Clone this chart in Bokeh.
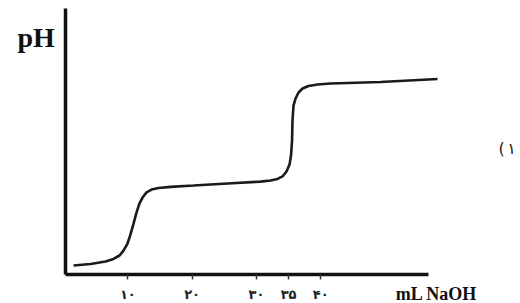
from bokeh.plotting import figure
from bokeh.models import Range1d, Label, FixedTicker
from bokeh.embed import file_html
from bokeh.resources import INLINE

# volume of NaOH added (mL) and pH
ml = [1.56, 4.2, 6.53, 7.78, 8.71, 9.33, 9.95, 10.42, 10.89, 11.35, 11.82, 12.29,
      12.91, 13.69, 14.77, 16.64, 20.22, 25.5, 30.64, 32.19, 33.28, 34.06, 34.68,
      35.15, 35.38, 35.54, 35.61, 35.77, 36.08, 36.55, 37.17, 38.1, 39.5, 41.52,
      49.3, 58.16]
ph = [0.47, 0.55, 0.68, 0.82, 1.0, 1.26, 1.63, 2.11, 2.68, 3.26, 3.74, 4.05,
      4.32, 4.47, 4.55, 4.61, 4.68, 4.79, 4.89, 4.95, 5.03, 5.16, 5.42,
      5.79, 6.26, 7.05, 8.11, 8.89, 9.26, 9.58, 9.79, 9.92, 10.0, 10.05,
      10.13, 10.29]

tick_values = [10, 20, 30, 35, 40]
tick_labels = ["۱۰", "۲۰", "۳۰", "۳۵", "۴۰"]

y_title = "pH"
x_title = "mL NaOH"
panel_paren = "("
panel_num = "۱"

p = figure(width=520, height=303, output_backend="svg", toolbar_location=None,
           x_range=Range1d(-9.8, 71.07), y_range=Range1d(-1.526, 14.42),
           min_border=0)
p.outline_line_color = None
p.grid.visible = False
p.background_fill_color = "white"
p.border_fill_color = "white"

p.line(ml, ph, line_color="#1a1a1a", line_width=2.6)

xa = p.xaxis[0]
xa.fixed_location = 0
xa.ticker = FixedTicker(ticks=tick_values)
xa.major_label_overrides = {v: t for v, t in zip(tick_values, tick_labels)}
xa.minor_tick_line_color = None
xa.major_tick_out = 5
xa.major_tick_in = 0
xa.major_tick_line_width = 1.5
xa.major_tick_line_color = "#333333"
xa.axis_line_width = 3.5
xa.axis_line_color = "#111111"
xa.bounds = (0.31, 56.8)
xa.major_label_text_font = "DejaVu Sans"
xa.major_label_text_font_size = "13px"
xa.major_label_text_font_style = "bold"
xa.major_label_text_color = "#222222"
xa.major_label_standoff = 7

ya = p.yaxis[0]
ya.fixed_location = 0.31
ya.ticker = FixedTicker(ticks=[])
ya.major_tick_line_color = None
ya.minor_tick_line_color = None
ya.major_label_text_color = None
ya.axis_line_width = 3.5
ya.axis_line_color = "#111111"
ya.bounds = (0, 14)

p.add_layout(Label(x=-7.15, y=12.47, text=y_title, text_font="Liberation Serif",
                   text_font_style="bold", text_font_size="28px",
                   text_baseline="middle", text_align="left", text_color="#111111"))
p.add_layout(Label(x=58.0, y=-1.0, text=x_title, text_font="Liberation Serif",
                   text_font_style="bold", text_font_size="18px",
                   text_baseline="middle", text_align="center", text_color="#111111"))
p.add_layout(Label(x=67.65, y=6.63, text=panel_paren, text_font="DejaVu Sans",
                   text_font_size="16px", text_baseline="middle",
                   text_align="left", text_color="#222222"))
p.add_layout(Label(x=69.0, y=6.63, text=panel_num, text_font="DejaVu Sans",
                   text_font_size="16px", text_baseline="middle",
                   text_align="left", text_color="#222222"))

open("out.html", "w").write(file_html(p, INLINE))
